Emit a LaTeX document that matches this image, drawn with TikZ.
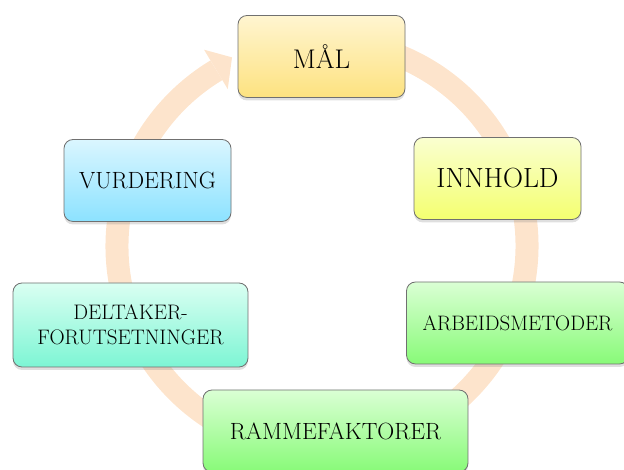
\documentclass[tikz,border=0pt]{standalone}
\usepackage[dvipsnames]{xcolor}
\usepackage{tikz}
\usetikzlibrary{shadows}

\definecolor{ringpeach}{RGB}{253,228,204}
\definecolor{boxline}{RGB}{112,112,112}
\definecolor{maaltop}{RGB}{255,245,208}
\definecolor{maalbot}{RGB}{253,226,128}
\definecolor{innholdtop}{RGB}{250,255,208}
\definecolor{innholdbot}{RGB}{244,255,112}
\definecolor{greentop}{RGB}{218,255,212}
\definecolor{greenbot}{RGB}{136,250,120}
\definecolor{aquatop}{RGB}{218,255,242}
\definecolor{aquabot}{RGB}{125,245,212}
\definecolor{bluetop}{RGB}{218,246,255}
\definecolor{bluebot}{RGB}{140,226,255}

\begin{document}
\begin{tikzpicture}[x=1pt,y=1pt,
  box/.style={draw=boxline, line width=0.8pt, rounded corners=9pt, align=center,
    inner sep=0pt, minimum height=82pt,
    drop shadow={shadow xshift=0pt, shadow yshift=-3pt, opacity=0.25}}]

\clip (0,0) rectangle (624,470);
\useasboundingbox (0,0) rectangle (624,470);

\coordinate (ctr) at (322,224);

% ring with its arrow head
\draw [color=ringpeach, line width=23pt] (ctr) ++(80:205) arc (80:-239:205);
\fill [color=ringpeach] ([shift={(ctr)}]121:229) -- ([shift={(ctr)}]115.5:209)
  -- ([shift={(ctr)}]121:183) -- cycle;


\node [box, top color=maaltop, bottom color=maalbot, minimum width=167pt,
  font=\fontsize{27}{32}\selectfont] (maal) at (321.5,413.5) {MÅL};

\node [box, top color=innholdtop, bottom color=innholdbot, minimum width=167pt,
  font=\fontsize{27.7}{32}\selectfont] (innhold) at (497.5,291.5) {INNHOLD};

\node [box, top color=greentop, bottom color=greenbot, minimum width=222pt,
  font=\fontsize{20.9}{25}\selectfont] (arbeid) at (517.5,147) {ARBEIDSMETODER};

\node [box, top color=greentop, bottom color=greenbot, minimum width=265pt,
  font=\fontsize{23.5}{28}\selectfont] (ramme) at (335.5,39) {RAMMEFAKTORER};

\node [box, top color=aquatop, bottom color=aquabot, minimum width=235pt,
  minimum height=84pt, font=\fontsize{21}{25}\selectfont] (deltaker) at (130.5,145)
  {DELTAKER-\\FORUTSETNINGER};

\node [box, top color=bluetop, bottom color=bluebot, minimum width=167pt,
  font=\fontsize{23.5}{28}\selectfont] (vurdering) at (147.5,289.5) {VURDERING};

%\draw [color=black!30] (ctr) circle (205);

\end{tikzpicture}
\end{document}
